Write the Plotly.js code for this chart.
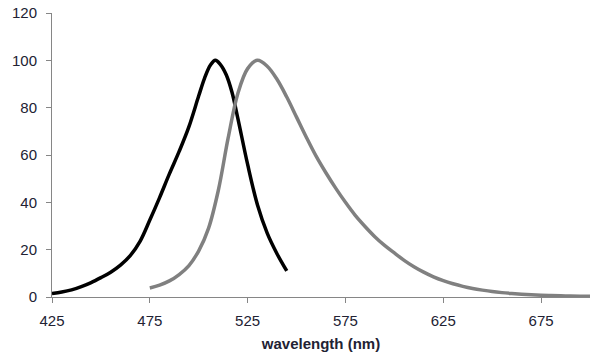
<!DOCTYPE html>
<html>
<head>
<meta charset="utf-8">
<script src="https://cdn.plot.ly/plotly-3.0.1.min.js"></script>
<style>html,body{margin:0;padding:0;background:#fff;}#chart{width:610px;height:357px;}</style>
</head>
<body>
<div id="chart"></div>
<script>
// Black curve (excitation)
const exWavelength = [425,430,435,440,445,450,455,460,465,470,475,480,485,490,495,500,503,506,508.5,511,514,517,520,525,530,535,540,545];
const exValues     = [1.5,2.1,3.0,4.4,6.1,8.2,10.5,13.5,17.5,23.5,32.5,42,52,61.5,72,85,92.5,98,100,98.3,94,86.5,75.5,56,39,27,18.3,11];
// Gray curve (emission)
const emWavelength = [475,480,485,490,495,500,505,510,515,520,525,530,535,540,545,550,555,560,565,570,575,580,585,590,595,600,605,610,615,620,625,630,635,640,645,650,655,660,665,670,675,680,685,690,695,700];
const emValues     = [3.8,5.0,6.8,9.5,13.3,19.5,29,45,67,86,96.5,100,97.5,92,84.5,76,67.5,59.5,52.5,46,40,34.5,29.8,25.5,21.8,18.6,15.5,12.8,10.5,8.5,6.9,5.6,4.5,3.6,2.9,2.3,1.85,1.5,1.2,0.95,0.75,0.6,0.48,0.4,0.33,0.28];
const xTicks = [425,475,525,575,625,675];
const yTicks = [0,20,40,60,80,100,120];
const xTitle = "wavelength (nm)";

const traces = [
  {x: exWavelength, y: exValues, mode: 'lines', line: {color: '#000000', width: 3.5, shape: 'spline', smoothing: 1}, hoverinfo: 'skip'},
  {x: emWavelength, y: emValues, mode: 'lines', line: {color: '#808080', width: 3.5, shape: 'spline', smoothing: 1}, hoverinfo: 'skip'}
];
const axisFont = {family: 'Liberation Sans, Arial, sans-serif', size: 15, color: '#222233'};
const layout = {
  width: 610, height: 357,
  margin: {l: 52, r: 20, t: 13, b: 60},
  paper_bgcolor: '#ffffff', plot_bgcolor: '#ffffff',
  showlegend: false,
  xaxis: {
    range: [425, 700], tickvals: xTicks, ticktext: xTicks.map(String),
    showgrid: false, zeroline: false, showline: true, linecolor: '#868686', linewidth: 1,
    ticks: 'outside', ticklen: 5, tickcolor: '#868686', tickwidth: 1,
    tickfont: axisFont, ticklabelstandoff: 5,
    title: {text: '<b>' + xTitle + '</b>', font: {family: 'Liberation Sans, Arial, sans-serif', size: 15, color: '#222233'}, standoff: 10}
  },
  yaxis: {
    range: [0, 120], tickvals: yTicks, ticktext: yTicks.map(String),
    showgrid: false, zeroline: false, showline: true, linecolor: '#868686', linewidth: 1,
    ticks: 'outside', ticklen: 5, tickcolor: '#868686', tickwidth: 1,
    tickfont: axisFont, ticklabelstandoff: 6
  }
};
Plotly.newPlot('chart', traces, layout, {staticPlot: true, displayModeBar: false});
</script>
</body>
</html>
